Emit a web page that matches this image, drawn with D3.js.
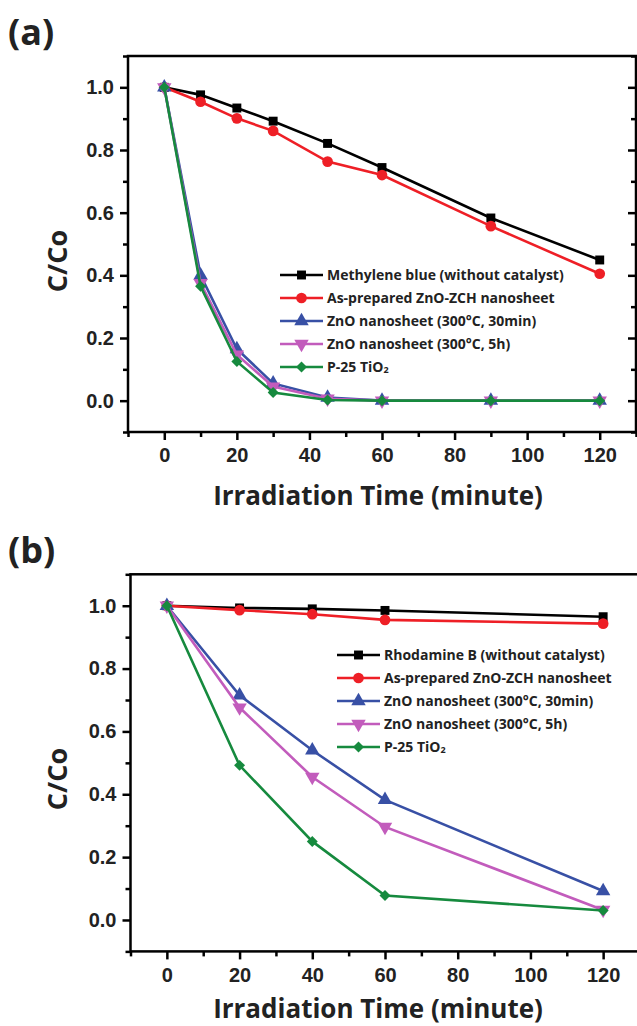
<!DOCTYPE html>
<html>
<head>
<meta charset="utf-8">
<script src="https://cdn.jsdelivr.net/npm/d3@7"></script>
<style>
  body { margin: 0; background: #fff; }
  svg { display: block; }
</style>
</head>
<body>
<div id="chart"></div>
<script>
// ---- data: panel (a), methylene blue ----
const timeA = [0, 10, 20, 30, 45, 60, 90, 120];
const mbBlank = [1.0, 0.976, 0.934, 0.892, 0.821, 0.744, 0.583, 0.449];
const mbZch = [1.0, 0.954, 0.901, 0.861, 0.763, 0.72, 0.557, 0.405];
const mbZno30 = [1.0, 0.40, 0.165, 0.055, 0.01, 0.0, 0.0, 0.0];
const mbZno5h = [1.0, 0.375, 0.147, 0.045, 0.006, 0.0, 0.0, 0.0];
const mbP25 = [1.0, 0.365, 0.125, 0.026, 0.002, 0.0, 0.0, 0.0];

// ---- data: panel (b), rhodamine B ----
const timeB = [0, 20, 40, 60, 120];
const rbBlank = [1.0, 0.993, 0.99, 0.985, 0.965];
const rbZch = [1.0, 0.986, 0.973, 0.955, 0.943];
const rbZno30 = [1.0, 0.715, 0.54, 0.382, 0.092];
const rbZno5h = [1.0, 0.676, 0.455, 0.296, 0.032];
const rbP25 = [1.0, 0.492, 0.25, 0.078, 0.03];

const labelsA = ["Methylene blue (without catalyst)", "As-prepared ZnO-ZCH nanosheet",
  "ZnO nanosheet (300°C, 30min)", "ZnO nanosheet (300°C, 5h)", "P-25 TiO"];
const labelsB = ["Rhodamine B (without catalyst)", "As-prepared ZnO-ZCH nanosheet",
  "ZnO nanosheet (300°C, 30min)", "ZnO nanosheet (300°C, 5h)", "P-25 TiO"];

const xMajor = [0, 20, 40, 60, 80, 100, 120];
const xMinor = [-10, 10, 30, 50, 70, 90, 110, 130];
const yMajor = [0.0, 0.2, 0.4, 0.6, 0.8, 1.0];
const yMinor = [-0.1, 0.1, 0.3, 0.5, 0.7, 0.9, 1.1];

const colors = ["#000000", "#ee1f26", "#3850a5", "#c25cbc", "#168a3e"];

const W = 637, H = 1026;
const svg = d3.select("#chart").append("svg").attr("width", W).attr("height", H);

const tickFont = "'Liberation Sans', Arial, sans-serif";
const titleFont = "'Open Sans', 'DejaVu Sans', sans-serif";

// marker shape + rotation for each series
function symPath(i) {
  if (i === 0) return { d: d3.symbol(d3.symbolSquare, 80)(), rot: 0 };
  if (i === 1) return { d: d3.symbol(d3.symbolCircle, 90)(), rot: 0 };
  if (i === 2) return { d: d3.symbol(d3.symbolTriangle, 90)(), rot: 0 };
  if (i === 3) return { d: d3.symbol(d3.symbolTriangle, 90)(), rot: 180 };
  return { d: d3.symbol(d3.symbolSquare, 60)(), rot: 45 };
}

function drawPanel(cfg) {
  const { time, series, labels, xRange, yRange, tag, tagY, titleY, yTitleY, legend } = cfg;
  const x = d3.scaleLinear().domain([-10, 130]).range(xRange);
  const y = d3.scaleLinear().domain([-0.1, 1.1]).range(yRange);
  const g = svg.append("g");

  // frame
  g.append("rect")
    .attr("x", xRange[0]).attr("y", yRange[1])
    .attr("width", xRange[1] - xRange[0]).attr("height", yRange[0] - yRange[1])
    .attr("fill", "none").attr("stroke", "#000").attr("stroke-width", 2.5);

  // left axis
  const left = g.append("g").attr("transform", `translate(${xRange[0]},0)`);
  left.call(d3.axisLeft(y).tickValues(yMajor).tickSize(8).tickPadding(6).tickFormat(d3.format(".1f")));
  left.append("g").call(d3.axisLeft(y).tickValues(yMinor).tickSize(5).tickFormat(""));
  // right axis (inward ticks)
  if (cfg.rightTicks) {
    const right = g.append("g").attr("transform", `translate(${xRange[1]},0)`);
    right.call(d3.axisRight(y).tickValues(yMajor).tickSize(-8).tickFormat(""));
    right.append("g").call(d3.axisRight(y).tickValues(yMinor).tickSize(-5).tickFormat(""));
  }
  // bottom axis
  const bottom = g.append("g").attr("transform", `translate(0,${yRange[0]})`);
  bottom.call(d3.axisBottom(x).tickValues(xMajor).tickSize(8).tickPadding(8));
  bottom.append("g").call(d3.axisBottom(x).tickValues(xMinor).tickSize(5).tickFormat(""));

  g.selectAll(".domain").remove();
  g.selectAll(".tick line").attr("stroke", "#000").attr("stroke-width", 2.5);
  g.selectAll(".tick text")
    .attr("font-family", tickFont).attr("font-weight", "bold")
    .attr("font-size", 20).attr("fill", "#222");

  // series
  const line = d3.line().x(d => x(d[0])).y(d => y(d[1]));
  series.forEach((vals, i) => {
    const pts = time.map((t, k) => [t, vals[k]]);
    g.append("path").datum(pts).attr("d", line)
      .attr("fill", "none").attr("stroke", colors[i]).attr("stroke-width", 2.6);
    const sp = symPath(i);
    g.selectAll(null).data(pts).join("path")
      .attr("d", sp.d)
      .attr("transform", d => `translate(${x(d[0])},${y(d[1])}) rotate(${sp.rot})`)
      .attr("fill", colors[i]);
  });

  // legend
  const lg = g.append("g").attr("transform", `translate(${legend.x},${legend.y})`);
  labels.forEach((lab, i) => {
    const row = lg.append("g").attr("transform", `translate(0,${i * legend.dy})`);
    row.append("line").attr("x1", 0).attr("x2", 43).attr("y1", 0).attr("y2", 0)
      .attr("stroke", colors[i]).attr("stroke-width", 2.6);
    const sp = symPath(i);
    row.append("path").attr("d", sp.d)
      .attr("transform", `translate(21.5,0) rotate(${sp.rot})`).attr("fill", colors[i]);
    const t = row.append("text").attr("x", 47).attr("y", 5)
      .attr("font-family", titleFont).attr("font-weight", "bold")
      .attr("font-size", 14).attr("fill", "#222").text(lab);
    if (i === 4) t.append("tspan").attr("font-size", 9).attr("dy", 1).text("2");
  });

  // titles
  g.append("text").attr("x", 378).attr("y", titleY)
    .attr("text-anchor", "middle").attr("font-family", titleFont).attr("font-weight", "bold")
    .attr("font-size", 26).attr("fill", "#222").text("Irradiation Time (minute)");
  g.append("text").attr("transform", `translate(67,${yTitleY}) rotate(-90)`)
    .attr("text-anchor", "middle").attr("font-family", titleFont).attr("font-weight", "bold")
    .attr("font-size", 27).attr("fill", "#222").text("C/Co");
  g.append("text").attr("x", 8).attr("y", tagY)
    .attr("font-family", titleFont).attr("font-weight", "bold")
    .attr("font-size", 36).attr("fill", "#222").text(tag);
}

drawPanel({
  time: timeA,
  series: [mbBlank, mbZch, mbZno30, mbZno5h, mbP25],
  labels: labelsA,
  xRange: [128, 636], yRange: [432, 56], rightTicks: true,
  tag: "(a)", tagY: 45, titleY: 505, yTitleY: 261,
  legend: { x: 280, y: 275, dy: 23 }
});

drawPanel({
  time: timeB,
  series: [rbBlank, rbZch, rbZno30, rbZno5h, rbP25],
  labels: labelsB,
  xRange: [130.5, 639.5], yRange: [951.4, 574.3], rightTicks: false,
  tag: "(b)", tagY: 563, titleY: 1018, yTitleY: 779,
  legend: { x: 337, y: 655, dy: 23 }
});
</script>
</body>
</html>
